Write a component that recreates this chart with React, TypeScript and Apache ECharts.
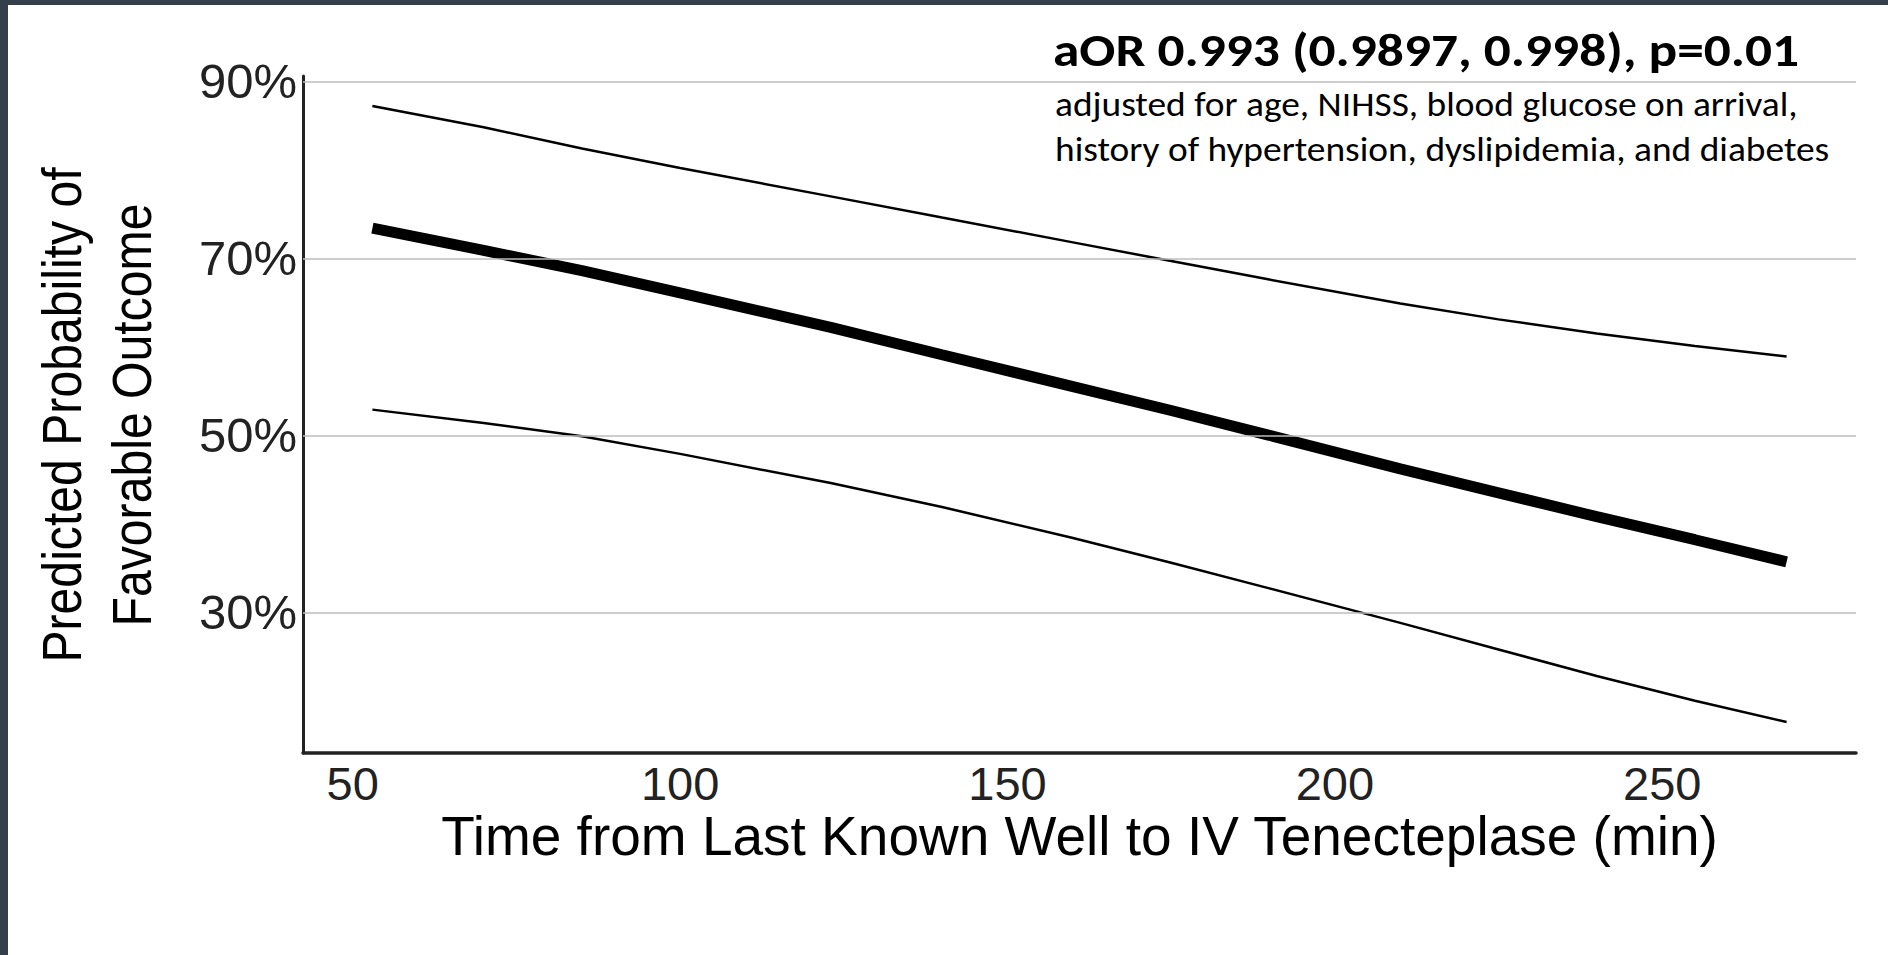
import { useEffect, useRef } from "react";
import * as echarts from "echarts";

// Data
const timeMin = [53, 70, 85, 100, 123, 140, 160, 175, 190, 210, 225, 240, 255, 269];
const upperCI = [87.2, 84.8, 82.4, 80.2, 77.0, 74.6, 71.8, 69.7, 67.6, 64.9, 63.1, 61.5, 60.1, 58.9];
const predicted = [73.4, 70.9, 68.6, 66.1, 62.2, 59.1, 55.5, 52.8, 50.0, 46.2, 43.5, 40.8, 38.2, 35.7];
const lowerCI = [52.9, 51.4, 49.9, 47.9, 44.6, 41.9, 38.4, 35.6, 32.7, 28.8, 25.8, 22.8, 20.0, 17.6];
const yTicks = [30, 50, 70, 90];
const xTicks = [50, 100, 150, 200, 250];
const titleText = "aOR 0.993 (0.9897, 0.998), p=0.01";
const noteLines = [
  "adjusted for age, NIHSS, blood glucose on arrival,",
  "history of hypertension, dyslipidemia, and diabetes",
];
const xName = "Time from Last Known Well to IV Tenecteplase (min)";
const yNameLines = ["Predicted Probability of", "Favorable Outcome"];

const AX_FONT = '"Liberation Sans", Arial, Helvetica, sans-serif';
const NOTE_FONT = "Carlito, Lato, sans-serif";

const pair = (ys: number[]) => timeMin.map((x, i) => [x, ys[i]]);

export default function App() {
  const ref = useRef<HTMLDivElement>(null);
  useEffect(() => {
    const chart = echarts.init(ref.current!, null, { renderer: "svg" });
    const option: any = {
      animation: false,
      backgroundColor: "#ffffff",
      grid: { left: 295, right: 32, top: 71, bottom: 202 },
      xAxis: {
        type: "value",
        min: 42.4,
        max: 279.6,
        axisLine: { show: true, onZero: false, lineStyle: { color: "#222", width: 3.5 } },
        axisTick: { show: false },
        splitLine: { show: false },
        axisLabel: {
          customValues: xTicks,
          fontSize: 47,
          lineHeight: 36,
          color: "#222",
          fontFamily: AX_FONT,
          margin: 12,
        },
        name: xName,
        nameLocation: "middle",
        nameGap: 61,
        nameMoveOverlap: false,
        nameTextStyle: { fontSize: 55, lineHeight: 44, color: "#000", fontFamily: AX_FONT },
      },
      yAxis: {
        type: "value",
        min: 14.1,
        max: 90.6,
        axisLine: { show: true, onZero: false, lineStyle: { color: "#222", width: 3 } },
        axisTick: { show: false },
        splitLine: { show: false },
        axisLabel: {
          customValues: yTicks,
          formatter: (v: number) => v + "%",
          fontSize: 49,
          color: "#222",
          fontFamily: AX_FONT,
          margin: 6,
        },
      },
      graphic: [
        {
          type: "text",
          x: 89,
          y: 410,
          rotation: Math.PI / 2,
          scaleX: 0.86,
          style: {
            text: yNameLines.join("\n"),
            font: `56px ${AX_FONT}`,
            lineHeight: 70,
            align: "center",
            verticalAlign: "middle",
            fill: "#000",
          },
        },
        {
          type: "text",
          x: 1045,
          y: 22,
          scaleX: 1.16,
          style: {
            text: titleText,
            font: `bold 46px ${NOTE_FONT}`,
            align: "left",
            verticalAlign: "top",
            fill: "#000",
          },
        },
        {
          type: "text",
          x: 1047,
          y: 77,
          scaleX: 1.1,
          style: {
            text: noteLines.join("\n"),
            font: `34px ${NOTE_FONT}`,
            lineHeight: 45,
            align: "left",
            verticalAlign: "top",
            fill: "#000",
          },
        },
      ],
      series: [
        {
          type: "line",
          data: pair(predicted),
          showSymbol: false,
          silent: true,
          lineStyle: { width: 0, opacity: 0 },
          z: 1,
          markLine: {
            silent: true,
            symbol: ["none", "none"],
            label: { show: false },
            lineStyle: { color: "#bdbdbd", width: 1.5, type: "solid" },
            data: yTicks.map((v) => ({ yAxis: v })),
          },
        },
        {
          type: "line",
          data: pair(upperCI),
          showSymbol: false,
          lineStyle: { color: "#000", width: 2.5 },
          z: 3,
        },
        {
          type: "line",
          data: pair(lowerCI),
          showSymbol: false,
          lineStyle: { color: "#000", width: 2.5 },
          z: 3,
        },
        {
          type: "line",
          data: pair(predicted),
          showSymbol: false,
          lineStyle: { color: "#000", width: 11, cap: "butt" },
          z: 4,
        },
      ],
    };
    chart.setOption(option);
    return () => chart.dispose();
  }, []);
  return (
    <div style={{ position: "fixed", left: 0, top: 0, width: 1888, height: 955, background: "#333f4a" }}>
      <div
        ref={ref}
        style={{ position: "absolute", left: 8, top: 5, width: 1880, height: 950, background: "#ffffff" }}
      />
    </div>
  );
}
